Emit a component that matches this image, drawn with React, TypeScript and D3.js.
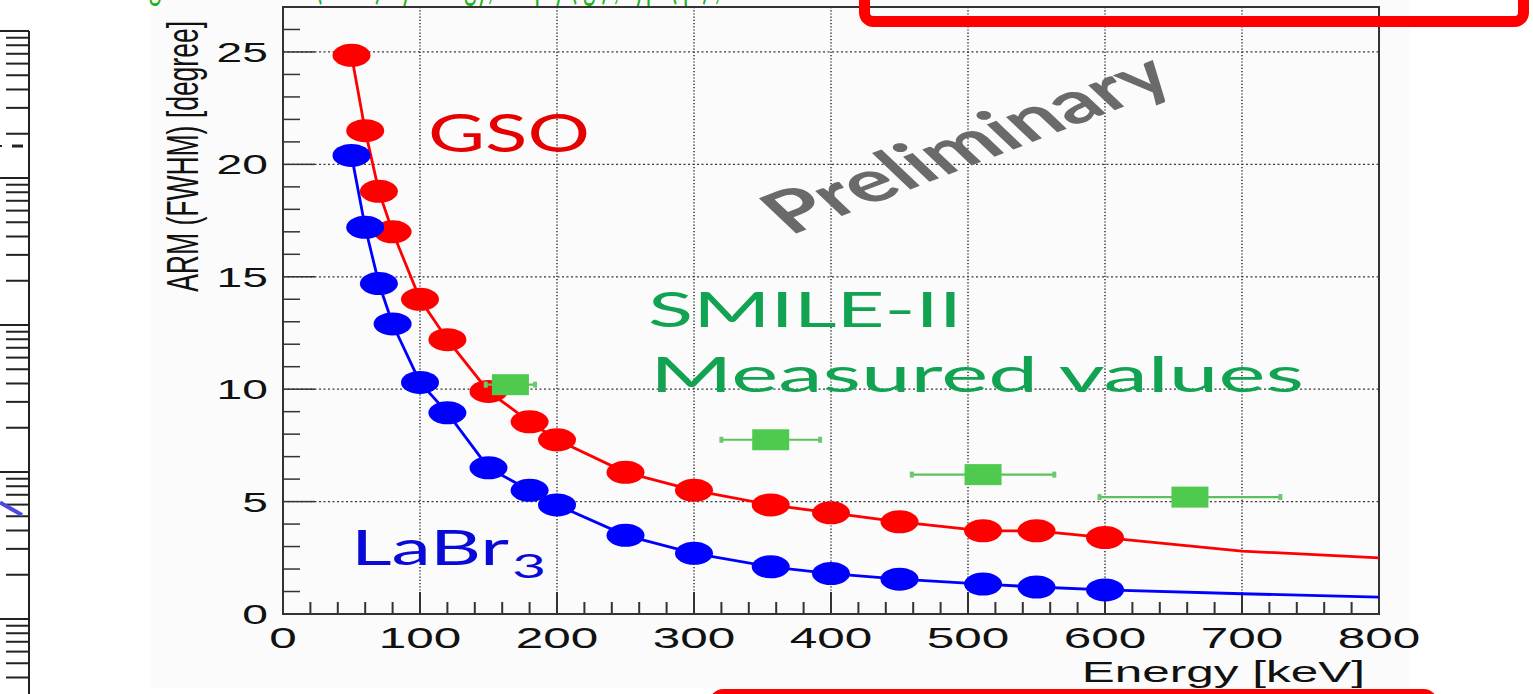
import React, { useEffect } from "react";
import * as d3 from "d3";

// Simulated angular resolution (ARM, FWHM) vs. gamma-ray energy
const energyKeV = [50, 60, 70, 80, 100, 120, 150, 180, 200, 250, 300, 356, 400, 450, 511, 550, 600];
const gsoArm = [24.85, 21.5, 18.8, 17.0, 14.0, 12.2, 9.9, 8.55, 7.75, 6.3, 5.5, 4.85, 4.5, 4.1, 3.7, 3.7, 3.4];
const labrArm = [20.4, 17.2, 14.7, 12.9, 10.3, 8.95, 6.5, 5.5, 4.85, 3.5, 2.7, 2.1, 1.8, 1.55, 1.33, 1.2, 1.07];

// continuation of the simulated curves above the last simulated energy
const tailEnergyKeV = [600, 700, 800];
const gsoTailArm = [3.4, 2.8, 2.5];
const labrTailArm = [1.07, 0.9, 0.75];

// SMILE-II measured values (energy error = horizontal bar half-width)
const measuredEnergyKeV = [166, 356, 511, 662];
const measuredArm = [10.2, 7.75, 6.2, 5.2];
const measuredEnergyErr = [18, 36, 52, 66];

const xTickValues = [0, 100, 200, 300, 400, 500, 600, 700, 800];
const yTickValues = [0, 5, 10, 15, 20, 25];

// neighbouring log-scale panel at the left edge of the slide
const sideTraceValues = [6.2, 5.1];
const sideMarkValues = [1650];

const W = 1533;
const H = 694;
const SX = 1.65; // the slide is shown horizontally stretched
const axisFont = "'Liberation Sans', Arial, Helvetica, sans-serif";
const noteFont = "Lato, 'Open Sans', 'Noto Sans', sans-serif";

export default function App() {
  useEffect(() => {
    document.body.style.margin = "0";
    document.body.style.overflow = "hidden";
  }, []);

  const x = d3.scaleLinear().domain([0, 800]).range([283, 1379]);
  const y = d3.scaleLinear().domain([0, 27]).range([614, 7]);

  const line = d3
    .line<[number, number]>()
    .x((d) => x(d[0]))
    .y((d) => y(d[1]));

  const gsoPts: [number, number][] = energyKeV.map((e, i) => [e, gsoArm[i]]);
  const labrPts: [number, number][] = energyKeV.map((e, i) => [e, labrArm[i]]);
  const gsoTail: [number, number][] = tailEnergyKeV.map((e, i) => [e, gsoTailArm[i]]);
  const labrTail: [number, number][] = tailEnergyKeV.map((e, i) => [e, labrTailArm[i]]);

  const xMinor = x.ticks(40).filter((v) => v % 100 !== 0);
  const yMinor = y.ticks(27).filter((v) => v % 5 !== 0 && v < 27);
  const xGrid = xTickValues.filter((v) => v > 0 && v < 800);
  const yGrid = yTickValues.filter((v) => v > 0);

  // log ruler of the neighbouring panel
  const ruler = d3.scaleLog().domain([0.1, 1e4]).range([766, 31]);
  const rulerTicks = ruler.ticks().filter((v) => ruler(v) >= 30 && ruler(v) <= H + 2);
  const isDecade = (v: number) => Math.abs(Math.log10(v) - Math.round(Math.log10(v))) < 1e-6;
  const sideX = d3.scaleLinear().domain([0, 1]).range([0, 22]);

  const red = "#ff0000";
  const blue = "#0000ff";
  const green = "#4fca4f";

  return (
    <svg
      width={W}
      height={H}
      viewBox={`0 0 ${W} ${H}`}
      style={{ position: "absolute", left: 0, top: 0, background: "#ffffff" }}
    >
      {/* canvas background of the plot image */}
      <rect x={150} y={0} width={1260} height={688} fill="#fbfbfb" />

      {/* neighbouring log-scale panel */}
      <g stroke="#222" strokeWidth={2}>
        <line x1={29} x2={29} y1={31} y2={H} />
        {rulerTicks.map((v, i) => (
          <line key={i} x1={isDecade(v) ? 0 : 6} x2={29} y1={ruler(v)} y2={ruler(v)} />
        ))}
        {sideMarkValues.map((v, i) => (
          <g key={i}>
            <line x1={12} x2={23} y1={ruler(v)} y2={ruler(v)} strokeWidth={3} />
            <line x1={0} x2={2} y1={ruler(v)} y2={ruler(v)} strokeWidth={2} />
          </g>
        ))}
      </g>
      <line
        x1={sideX(0)}
        x2={sideX(1)}
        y1={ruler(sideTraceValues[0])}
        y2={ruler(sideTraceValues[1])}
        stroke="#4a4ae0"
        strokeWidth={4}
      />

      {/* title line of the slide, mostly above the visible area */}
      <text
        x={120}
        y={-1}
        fontFamily={noteFont}
        fontSize={40}
        fill="#1cb31c"
        textLength={600}
        lengthAdjust="spacingAndGlyphs"
      >
        Angular resolution (ARM) by energy, simply ( g ) , typ. ( p ) ,
      </text>

      {/* grid */}
      <g stroke="#3a3a3a" fill="none">
        {xGrid.map((v) => (
          <line key={"gx" + v} x1={x(v)} x2={x(v)} y1={y(27)} y2={y(0)} strokeWidth={1.6} strokeDasharray="1.2,2" />
        ))}
        {yGrid.map((v) => (
          <line key={"gy" + v} x1={x(0)} x2={x(800)} y1={y(v)} y2={y(v)} strokeWidth={1.2} strokeDasharray="2,2.5" />
        ))}
      </g>

      {/* ticks */}
      <g stroke="#333">
        {xTickValues.map((v) => (
          <line key={"xt" + v} x1={x(v)} x2={x(v)} y1={y(0)} y2={y(0) - 22} strokeWidth={2} />
        ))}
        {xMinor.map((v) => (
          <line key={"xm" + v} x1={x(v)} x2={x(v)} y1={y(0)} y2={y(0) - 12} strokeWidth={2} />
        ))}
        {yTickValues.map((v) => (
          <line key={"yt" + v} x1={x(0)} x2={x(0) + 32} y1={y(v)} y2={y(v)} strokeWidth={1.5} />
        ))}
        {yMinor.map((v) => (
          <line key={"ym" + v} x1={x(0)} x2={x(0) + 17} y1={y(v)} y2={y(v)} strokeWidth={1.5} />
        ))}
      </g>

      {/* frame */}
      <rect
        x={x(0)}
        y={y(27)}
        width={x(800) - x(0)}
        height={y(0) - y(27)}
        fill="none"
        stroke="#333"
        strokeWidth={2}
      />

      {/* tick labels */}
      <g fontFamily={axisFont} fill="#111">
        {xTickValues.map((v) => (
          <text key={"xl" + v} transform={`translate(${x(v)},648) scale(${SX},1)`} textAnchor="middle" fontSize={30}>
            {v}
          </text>
        ))}
        {yTickValues.map((v) => (
          <text key={"yl" + v} transform={`translate(268,${y(v) + 10}) scale(${SX},1)`} textAnchor="end" fontSize={28}>
            {v}
          </text>
        ))}
        <text transform={`translate(1365,682) scale(${SX},1)`} textAnchor="end" fontSize={30}>
          Energy [keV]
        </text>
        <text transform={`translate(198,21) scale(${SX},1) rotate(-90)`} textAnchor="end" fontSize={26.5}>
          ARM (FWHM) [degree]
        </text>
      </g>

      {/* GSO */}
      <path d={line(gsoPts.concat(gsoTail.slice(1))) ?? ""} fill="none" stroke={red} strokeWidth={2.8} />
      {gsoPts.map((p, i) => (
        <ellipse key={"g" + i} cx={x(p[0])} cy={y(p[1])} rx={19} ry={11.5} fill={red} />
      ))}

      {/* LaBr3 */}
      <path d={line(labrPts.concat(labrTail.slice(1))) ?? ""} fill="none" stroke={blue} strokeWidth={2.8} />
      {labrPts.map((p, i) => (
        <ellipse key={"l" + i} cx={x(p[0])} cy={y(p[1])} rx={19} ry={11.5} fill={blue} />
      ))}

      {/* SMILE-II measured values */}
      {measuredEnergyKeV.map((e, i) => {
        const cy = y(measuredArm[i]);
        const x0 = x(e - measuredEnergyErr[i]);
        const x1 = x(e + measuredEnergyErr[i]);
        return (
          <g key={"m" + i}>
            <line x1={x0} x2={x1} y1={cy} y2={cy} stroke="#5cc15c" strokeWidth={2.2} />
            <rect x={x0 - 2} y={cy - 3} width={4} height={6} fill="#6cc86c" />
            <rect x={x1 - 2} y={cy - 3} width={4} height={6} fill="#6cc86c" />
            <rect x={x(e) - 18.5} y={cy - 10.5} width={37} height={21} fill={green} />
          </g>
        );
      })}

      {/* annotations */}
      <g fontFamily={noteFont}>
        <text x={428} y={152} fontSize={52} fill="#e60000" textLength={162} lengthAdjust="spacingAndGlyphs">
          GSO
        </text>
        <text x={648} y={327} fontSize={49} fill="#12a352" textLength={314} lengthAdjust="spacingAndGlyphs">
          SMILE-II
        </text>
        <text x={650} y={392} fontSize={48} fill="#12a352" textLength={654} lengthAdjust="spacingAndGlyphs">
          Measured values
        </text>
        <text x={351} y={565} fontSize={49} fill="#0a0ad8" textLength={158} lengthAdjust="spacingAndGlyphs">
          LaBr
        </text>
        <text x={512} y={578} fontSize={33} fill="#0a0ad8" textLength={34} lengthAdjust="spacingAndGlyphs">
          3
        </text>
        <text
          transform={`translate(790,236) scale(${SX},1) rotate(-32.6)`}
          fontSize={58}
          fontWeight={700}
          fill="#6a6a6a"
          textLength={280}
          lengthAdjust="spacingAndGlyphs"
        >
          Preliminary
        </text>
      </g>

      {/* highlight boxes */}
      <rect x={864.5} y={-40} width={659} height={61.5} rx={9} fill="none" stroke="#ff0000" strokeWidth={11} />
      <rect x={714.5} y={694.5} width={718} height={80} rx={9} fill="none" stroke="#ff0000" strokeWidth={11} />
    </svg>
  );
}
